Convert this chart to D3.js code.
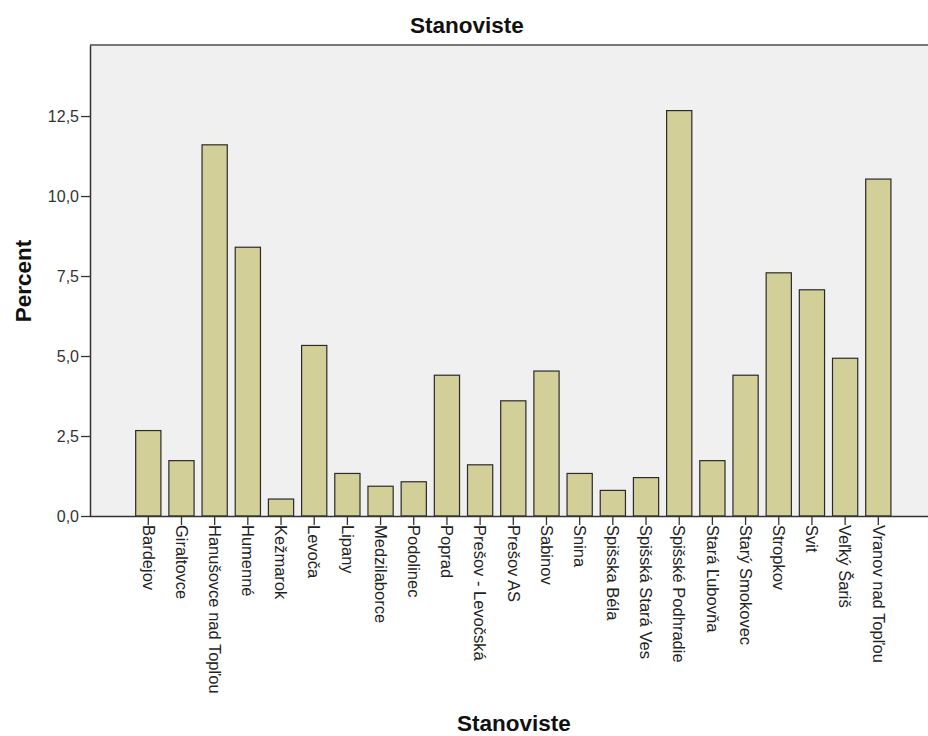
<!DOCTYPE html>
<html>
<head>
<meta charset="utf-8">
<script src="https://cdn.jsdelivr.net/npm/d3@7"></script>
<style>
  body { margin: 0; background: #fff; }
  text { font-family: "Liberation Sans", Arial, sans-serif; }
</style>
</head>
<body>
<svg id="chart" width="928" height="736"></svg>
<script>
const categories = ["Bardejov","Giraltovce","Hanušovce nad Topľou","Humenné","Kežmarok","Levoča","Lipany","Medzilaborce","Podolinec","Poprad","Prešov - Levočská","Prešov AS","Sabinov","Snina","Spišska Béla","Spišská Stará Ves","Spišské Podhradie","Stará Ľubovňa","Starý Smokovec","Stropkov","Svit","Veľký Šariš","Vranov nad Topľou"];
const percents = [2.67,1.73,11.60,8.40,0.53,5.33,1.33,0.93,1.07,4.40,1.60,3.60,4.53,1.33,0.80,1.20,12.67,1.73,4.40,7.60,7.07,4.93,10.53];
const yTicks = [0,2.5,5,7.5,10,12.5];
const title = "Stanoviste";
const xTitle = "Stanoviste";
const yTitle = "Percent";

const svg = d3.select("#chart");
const plot = {left: 90, right: 928, top: 45, bottom: 516};

const x = d3.scaleBand().domain(categories).range([131.7, 894.9]).paddingInner(0.24).paddingOuter(0.12);
const y = d3.scaleLinear().domain([0, 14.72]).range([plot.bottom, plot.top]);

// plot background
svg.append("rect").attr("x", plot.left).attr("y", plot.top)
  .attr("width", plot.right - plot.left).attr("height", plot.bottom - plot.top)
  .attr("fill", "#f0f0f0");
// top border
svg.append("line").attr("x1", plot.left).attr("x2", plot.right).attr("y1", plot.top).attr("y2", plot.top)
  .attr("stroke", "#777").attr("stroke-width", 2);

// bars
svg.append("g").selectAll("rect").data(percents).join("rect")
  .attr("x", (d, i) => x(categories[i]))
  .attr("y", d => y(d))
  .attr("width", x.bandwidth())
  .attr("height", d => y(0) - y(d))
  .attr("fill", "#d3cf98")
  .attr("stroke", "#2b2b2b")
  .attr("stroke-width", 1.2);

// y axis
const fmt = d => d3.format(".1f")(d).replace(".", ",");
const yAxis = svg.append("g").attr("transform", `translate(${plot.left},0)`)
  .call(d3.axisLeft(y).tickValues(yTicks).tickFormat(fmt).tickSize(9).tickSizeOuter(0));
yAxis.select(".domain").attr("stroke", "#333").attr("stroke-width", 1.5);
yAxis.selectAll(".tick line").attr("stroke", "#333").attr("stroke-width", 1.3);
yAxis.selectAll(".tick text").attr("font-size", 16).attr("fill", "#333")
  .attr("font-family", "Liberation Sans, Arial, sans-serif").attr("x", -11);

// x axis
const xAxis = svg.append("g").attr("transform", `translate(0,${plot.bottom})`)
  .call(d3.axisBottom(x).tickSize(9).tickSizeOuter(0));
xAxis.select(".domain").attr("d", `M${plot.left},0.5H${plot.right}`).attr("stroke", "#333").attr("stroke-width", 1.5);
xAxis.selectAll(".tick line").attr("stroke", "#333").attr("stroke-width", 1.3);
xAxis.selectAll(".tick text")
  .attr("font-size", 16.5).attr("fill", "#222")
  .attr("font-family", "Liberation Sans, Arial, sans-serif")
  .attr("text-anchor", "start")
  .attr("transform", "rotate(90)")
  .attr("x", 9).attr("y", 0).attr("dy", "0.35em");

// titles
svg.append("text").attr("x", 467).attr("y", 33).attr("text-anchor", "middle")
  .attr("font-size", 22.5).attr("font-weight", "bold").attr("fill", "#111").text(title);
svg.append("text").attr("x", 514).attr("y", 731).attr("text-anchor", "middle")
  .attr("font-size", 22.5).attr("font-weight", "bold").attr("fill", "#111").text(xTitle);
svg.append("text").attr("transform", "translate(31,281) rotate(-90)").attr("text-anchor", "middle")
  .attr("font-size", 22.5).attr("font-weight", "bold").attr("fill", "#111").text(yTitle);
</script>
</body>
</html>
